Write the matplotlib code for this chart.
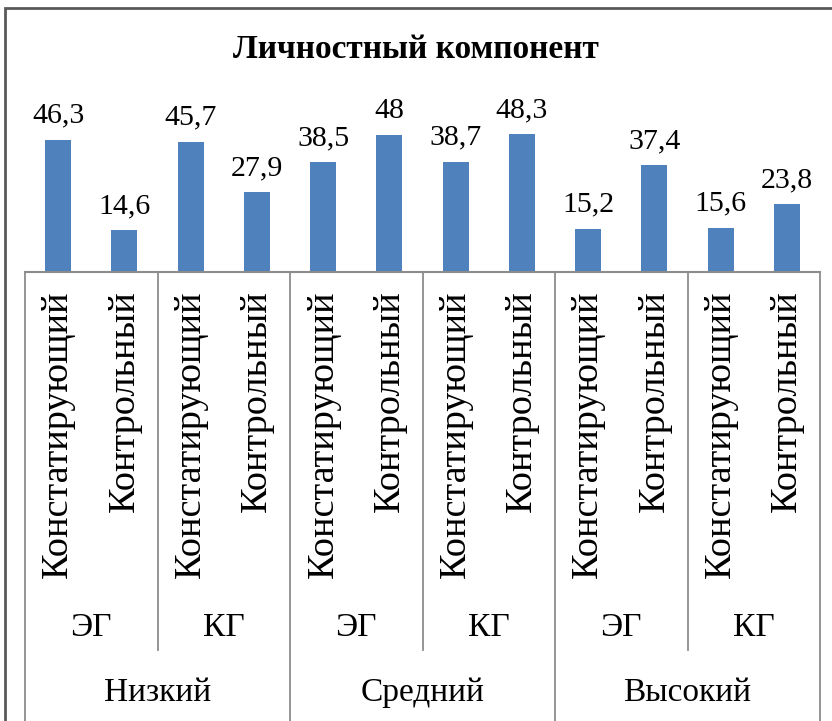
import matplotlib.pyplot as plt
from matplotlib.patches import Rectangle

# data
values = [46.3, 14.6, 45.7, 27.9, 38.5, 48.0, 38.7, 48.3, 15.2, 37.4, 15.6, 23.8]
value_labels = ["46,3", "14,6", "45,7", "27,9", "38,5", "48", "38,7", "48,3",
                "15,2", "37,4", "15,6", "23,8"]
stages = ["Констатирующий", "Контрольный"] * 6
groups = ["ЭГ", "КГ"] * 3
levels = ["Низкий", "Средний", "Высокий"]

plt.rcParams['font.family'] = ['Liberation Serif', 'DejaVu Serif']

W, H = 832, 721
fig = plt.figure(figsize=(W / 100, H / 100), dpi=100)

# axes placement in pixels
left_px, right_px = 25, 820
base_px, top_px = 272, 100
ax = fig.add_axes([left_px / W, (H - base_px) / H,
                   (right_px - left_px) / W, (base_px - top_px) / H])

x = list(range(len(values)))
bars = ax.bar(x, values, width=0.39, color='#4F81BD')
ax.bar_label(bars, labels=value_labels, padding=8, fontsize=21.5)

ax.set_xlim(-0.5, 11.5)
ax.set_ylim(0, 60.3)
ax.set_yticks([])
ax.set_xticks([])
for s in ['left', 'right', 'top']:
    ax.spines[s].set_visible(False)
ax.spines['bottom'].set_color('#8c8c8c')
ax.spines['bottom'].set_linewidth(1.5)

ah = base_px - top_px


def ypix(py):
    # pixel row -> axes fraction
    return (base_px - py) / ah


tr = ax.get_xaxis_transform()

# category table lines
for i, xs in enumerate([-0.5, 1.5, 3.5, 5.5, 7.5, 9.5, 11.5]):
    end = 725 if i % 2 == 0 else 650
    ax.plot([xs, xs], [0, ypix(end)], transform=tr, color='#8c8c8c',
            lw=1.3, clip_on=False)

# rotated stage labels
for i, s in enumerate(stages):
    ax.text(i, ypix(290), s, transform=tr, rotation=90, ha='center',
            va='top', fontsize=27.5)

for i, g in enumerate(groups):
    ax.text(2 * i + 0.5, ypix(628), g, transform=tr, ha='center',
            va='center', fontsize=24)

for i, l in enumerate(levels):
    ax.text(4 * i + 1.5, ypix(693), l, transform=tr, ha='center',
            va='center', fontsize=24)

# title
fig.text(0.5, 1 - 50 / H, "Личностный компонент", ha='center', va='center',
         fontsize=24, fontweight='bold')

# outer frame
fig.patches.append(Rectangle((5 / W, -0.1), 1.2, 1 - 8 / H + 0.1,
                             transform=fig.transFigure, fill=False,
                             edgecolor='#595959', lw=2))

fig.savefig('out.png', dpi=100)
